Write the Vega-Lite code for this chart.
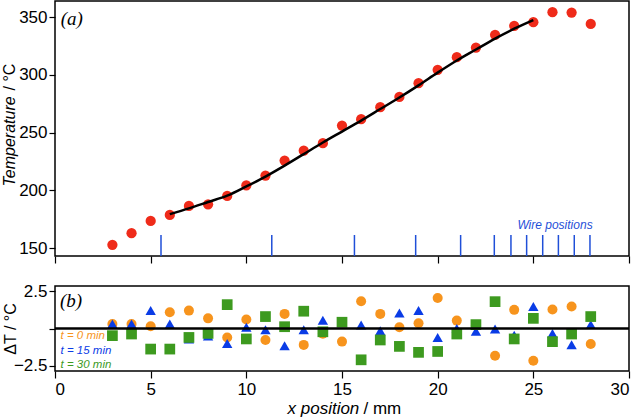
{
  "$schema": "https://vega.github.io/schema/vega-lite/v6.json",
  "background": "white",
  "padding": {"left": 0, "top": 0, "right": 5, "bottom": 0},
  "spacing": 16,
  "config": {
    "view": {"stroke": "black", "strokeWidth": 1.5},
    "font": "Liberation Sans",
    "axis": {
      "domain": false, "grid": false, "tickColor": "black", "tickWidth": 1.2, "tickSize": 6,
      "labelFont": "Liberation Sans", "labelFontSize": 17, "labelColor": "black", "labelPadding": 2,
      "titleFont": "Liberation Sans", "titleFontSize": 16, "titleColor": "black", "titleFontWeight": "normal"
    }
  },
  "datasets": {
    "temp": [
      {"x": 3, "T": 153}, {"x": 4, "T": 163}, {"x": 5, "T": 173.6}, {"x": 6, "T": 178.8},
      {"x": 7, "T": 186.6}, {"x": 8, "T": 188}, {"x": 9, "T": 195.3}, {"x": 10, "T": 204.5},
      {"x": 11, "T": 212.9}, {"x": 12, "T": 225.9}, {"x": 13, "T": 234.5}, {"x": 14, "T": 240.9},
      {"x": 15, "T": 256.2}, {"x": 16, "T": 261.7}, {"x": 17, "T": 272.1}, {"x": 18, "T": 281},
      {"x": 19, "T": 292.9}, {"x": 20, "T": 304.4}, {"x": 21, "T": 315.4}, {"x": 22, "T": 323.7},
      {"x": 23, "T": 334.7}, {"x": 24, "T": 342.5}, {"x": 25, "T": 345.7}, {"x": 26, "T": 354.3},
      {"x": 27, "T": 354}, {"x": 28, "T": 344.2}
    ],
    "fit": [
      {"x": 6, "T": 179.5}, {"x": 7, "T": 184.5}, {"x": 8, "T": 190}, {"x": 9, "T": 195.5},
      {"x": 10, "T": 203.5}, {"x": 11, "T": 212}, {"x": 12, "T": 221.5}, {"x": 13, "T": 231.5},
      {"x": 14, "T": 241.5}, {"x": 15, "T": 251}, {"x": 16, "T": 260.5}, {"x": 17, "T": 270.5},
      {"x": 18, "T": 280.5}, {"x": 19, "T": 291}, {"x": 20, "T": 302}, {"x": 21, "T": 312.5},
      {"x": 22, "T": 322}, {"x": 23, "T": 331.5}, {"x": 24, "T": 340}, {"x": 25, "T": 347.5}
    ],
    "wires": [
      {"x": 5.54}, {"x": 11.33}, {"x": 15.65}, {"x": 18.85}, {"x": 21.2}, {"x": 22.96},
      {"x": 23.83}, {"x": 24.65}, {"x": 25.49}, {"x": 26.31}, {"x": 27.14}, {"x": 27.96}
    ],
    "dT": [
      {"x": 3, "s": "t0", "dT": 0.3}, {"x": 4, "s": "t0", "dT": 0.3}, {"x": 5, "s": "t0", "dT": 0.15},
      {"x": 6, "s": "t0", "dT": 1.09}, {"x": 7, "s": "t0", "dT": 1.2}, {"x": 8, "s": "t0", "dT": 0.68},
      {"x": 9, "s": "t0", "dT": -0.6}, {"x": 10, "s": "t0", "dT": 0.6}, {"x": 11, "s": "t0", "dT": -0.77},
      {"x": 12, "s": "t0", "dT": 0.98}, {"x": 13, "s": "t0", "dT": -1.1}, {"x": 14, "s": "t0", "dT": -0.35},
      {"x": 15, "s": "t0", "dT": -0.88}, {"x": 16, "s": "t0", "dT": 1.83}, {"x": 17, "s": "t0", "dT": 0.98},
      {"x": 18, "s": "t0", "dT": 0.08}, {"x": 19, "s": "t0", "dT": 0.35}, {"x": 20, "s": "t0", "dT": 2.05},
      {"x": 21, "s": "t0", "dT": 0.53}, {"x": 22, "s": "t0", "dT": 0.2}, {"x": 23, "s": "t0", "dT": -1.83},
      {"x": 24, "s": "t0", "dT": 1.25}, {"x": 25, "s": "t0", "dT": -2.16}, {"x": 26, "s": "t0", "dT": 1.27},
      {"x": 27, "s": "t0", "dT": 1.47}, {"x": 28, "s": "t0", "dT": -1.04},
      {"x": 3, "s": "t15", "dT": 0.3}, {"x": 4, "s": "t15", "dT": 0.3}, {"x": 5, "s": "t15", "dT": 1.2},
      {"x": 6, "s": "t15", "dT": 0.3}, {"x": 7, "s": "t15", "dT": -0.7}, {"x": 8, "s": "t15", "dT": -0.5},
      {"x": 9, "s": "t15", "dT": -1.0}, {"x": 10, "s": "t15", "dT": 0.08}, {"x": 11, "s": "t15", "dT": -0.08},
      {"x": 12, "s": "t15", "dT": -1.15}, {"x": 13, "s": "t15", "dT": -0.08}, {"x": 14, "s": "t15", "dT": 0.55},
      {"x": 15, "s": "t15", "dT": 0.4}, {"x": 16, "s": "t15", "dT": 0.24}, {"x": 17, "s": "t15", "dT": -0.15},
      {"x": 18, "s": "t15", "dT": 1.04}, {"x": 19, "s": "t15", "dT": 1.2}, {"x": 20, "s": "t15", "dT": -0.6},
      {"x": 21, "s": "t15", "dT": 0.0}, {"x": 22, "s": "t15", "dT": -0.19}, {"x": 23, "s": "t15", "dT": -0.03},
      {"x": 24, "s": "t15", "dT": -0.45}, {"x": 25, "s": "t15", "dT": 1.47}, {"x": 26, "s": "t15", "dT": -0.33},
      {"x": 27, "s": "t15", "dT": -1.09}, {"x": 28, "s": "t15", "dT": 0.26},
      {"x": 3, "s": "t30", "dT": -0.48}, {"x": 4, "s": "t30", "dT": -0.37}, {"x": 5, "s": "t30", "dT": -1.38},
      {"x": 6, "s": "t30", "dT": -1.38}, {"x": 7, "s": "t30", "dT": -0.6}, {"x": 8, "s": "t30", "dT": -0.33},
      {"x": 9, "s": "t30", "dT": 1.6}, {"x": 10, "s": "t30", "dT": -0.7}, {"x": 11, "s": "t30", "dT": 0.8},
      {"x": 12, "s": "t30", "dT": 0.12}, {"x": 13, "s": "t30", "dT": 1.16}, {"x": 14, "s": "t30", "dT": -0.22},
      {"x": 15, "s": "t30", "dT": 0.42}, {"x": 16, "s": "t30", "dT": -2.1}, {"x": 17, "s": "t30", "dT": -0.77},
      {"x": 18, "s": "t30", "dT": -1.2}, {"x": 19, "s": "t30", "dT": -1.6}, {"x": 20, "s": "t30", "dT": -1.54},
      {"x": 21, "s": "t30", "dT": -0.37}, {"x": 22, "s": "t30", "dT": 0.26}, {"x": 23, "s": "t30", "dT": 1.8},
      {"x": 24, "s": "t30", "dT": -0.7}, {"x": 25, "s": "t30", "dT": 0.68}, {"x": 26, "s": "t30", "dT": -0.88},
      {"x": 27, "s": "t30", "dT": -0.37}, {"x": 28, "s": "t30", "dT": 0.8}
    ],
    "one": [{"a": "Wire positions", "b": "(a)", "c": "(b)", "l0": "t = 0 min", "l15": "t = 15 min", "l30": "t = 30 min"}]
  },
  "vconcat": [
    {
      "width": 574,
      "height": 255,
      "layer": [
        {
          "layer": [
            {
              "data": {"name": "temp"},
              "mark": {"type": "circle", "size": 105, "color": "#ef2b1a", "opacity": 1},
              "encoding": {
                "x": {"field": "x", "type": "quantitative",
                      "scale": {"domain": [0, 30], "nice": false},
                      "axis": {"values": [0, 5, 10, 15, 20, 25, 30], "labels": false, "title": null, "tickSize": 7}},
                "y": {"field": "T", "type": "quantitative",
                      "scale": {"domain": [143.3, 364], "nice": false, "zero": false},
                      "axis": {"values": [150, 200, 250, 300, 350], "title": "Temperature",
                               "titleFontStyle": "italic", "titleAngle": 270, "titleAlign": "left",
                               "titleBaseline": "middle", "titleX": -46, "titleY": 185}}
              }
            },
            {
              "data": {"name": "fit"},
              "mark": {"type": "line", "color": "black", "strokeWidth": 2.5, "interpolate": "monotone"},
              "encoding": {
                "x": {"field": "x", "type": "quantitative"},
                "y": {"field": "T", "type": "quantitative"}
              }
            },
            {
              "data": {"name": "wires"},
              "mark": {"type": "rule", "color": "#1f4fd8", "strokeWidth": 1.5},
              "encoding": {
                "x": {"field": "x", "type": "quantitative"},
                "y": {"datum": 161.5, "type": "quantitative"},
                "y2": {"datum": 143.3}
              }
            },
            {
              "data": {"name": "one"},
              "mark": {"type": "text", "color": "#1f4fd8", "font": "Liberation Sans", "fontStyle": "italic",
                       "fontSize": 12, "align": "right", "baseline": "alphabetic"},
              "encoding": {
                "x": {"datum": 28.1, "type": "quantitative"},
                "y": {"datum": 166.7, "type": "quantitative"},
                "text": {"field": "a"}
              }
            },
            {
              "data": {"name": "one"},
              "mark": {"type": "text", "color": "black", "font": "Liberation Serif", "fontStyle": "italic",
                       "fontSize": 19, "align": "left", "baseline": "middle"},
              "encoding": {
                "x": {"datum": 0.3, "type": "quantitative"},
                "y": {"datum": 348.5, "type": "quantitative"},
                "text": {"field": "b"}
              }
            }
          ]
        },
        {
          "data": {"name": "temp"},
          "mark": {"type": "point", "opacity": 0},
          "encoding": {
            "y": {"field": "T", "type": "quantitative",
                  "axis": {"orient": "right", "labels": false, "ticks": false, "domain": false,
                           "title": "/ °C", "titleFontStyle": "normal", "titleAngle": 270, "titleAlign": "left",
                           "titleBaseline": "middle", "titleX": -620, "titleY": 89}}
          }
        }
      ],
      "resolve": {"axis": {"y": "independent"}}
    },
    {
      "width": 574,
      "height": 85,
      "layer": [
        {
          "layer": [
            {
              "data": {"name": "dT"},
              "mark": {"type": "point", "filled": true, "opacity": 1, "strokeWidth": 0},
              "encoding": {
                "x": {"field": "x", "type": "quantitative",
                      "scale": {"domain": [0, 30], "nice": false},
                      "axis": {"values": [0, 5, 10, 15, 20, 25, 30], "tickSize": 7, "labelPadding": 3,
                               "title": "x position", "titleFontStyle": "italic", "titleFontSize": 17,
                               "titleAlign": "left", "titleBaseline": "alphabetic", "titleX": 232, "titleY": 42}},
                "y": {"field": "dT", "type": "quantitative",
                      "scale": {"domain": [-2.85, 2.85], "nice": false},
                      "axis": {"values": [-2.5, 0, 2.5], "format": ".1f",
                               "labelExpr": "datum.value === 0 ? '' : datum.label",
                               "title": "ΔT / °C", "titleAngle": 270, "titleAlign": "center",
                               "titleBaseline": "middle", "titleX": -45, "titleY": 42.5}},
                "color": {"field": "s", "type": "nominal",
                          "scale": {"domain": ["t0", "t15", "t30"], "range": ["#f7941d", "#0a3ce6", "#3d9a1f"]},
                          "legend": null},
                "shape": {"field": "s", "type": "nominal",
                          "scale": {"domain": ["t0", "t15", "t30"], "range": ["circle", "triangle-up", "square"]},
                          "legend": null},
                "size": {"field": "s", "type": "nominal",
                         "scale": {"domain": ["t0", "t15", "t30"], "range": [100, 115, 121]},
                         "legend": null}
              }
            },
            {
              "data": {"name": "one"},
              "mark": {"type": "rule", "color": "black", "strokeWidth": 2.5},
              "encoding": {"y": {"datum": 0, "type": "quantitative"}}
            },
            {
              "data": {"name": "one"},
              "mark": {"type": "text", "color": "black", "font": "Liberation Serif", "fontStyle": "italic",
                       "fontSize": 19, "align": "left", "baseline": "middle"},
              "encoding": {
                "x": {"datum": 0.26, "type": "quantitative"},
                "y": {"datum": 1.82, "type": "quantitative"},
                "text": {"field": "c"}
              }
            },
            {
              "data": {"name": "one"},
              "mark": {"type": "text", "color": "#f7941d", "font": "Liberation Sans", "fontStyle": "italic",
                       "fontSize": 11.5, "align": "left", "baseline": "middle"},
              "encoding": {
                "x": {"datum": 0.29, "type": "quantitative"},
                "y": {"datum": -0.5, "type": "quantitative"},
                "text": {"field": "l0"}
              }
            },
            {
              "data": {"name": "one"},
              "mark": {"type": "text", "color": "#0a3ce6", "font": "Liberation Sans", "fontStyle": "italic",
                       "fontSize": 11.5, "align": "left", "baseline": "middle"},
              "encoding": {
                "x": {"datum": 0.29, "type": "quantitative"},
                "y": {"datum": -1.54, "type": "quantitative"},
                "text": {"field": "l15"}
              }
            },
            {
              "data": {"name": "one"},
              "mark": {"type": "text", "color": "#3d9a1f", "font": "Liberation Sans", "fontStyle": "italic",
                       "fontSize": 11.5, "align": "left", "baseline": "middle"},
              "encoding": {
                "x": {"datum": 0.29, "type": "quantitative"},
                "y": {"datum": -2.47, "type": "quantitative"},
                "text": {"field": "l30"}
              }
            }
          ]
        },
        {
          "data": {"name": "dT"},
          "mark": {"type": "point", "opacity": 0},
          "encoding": {
            "x": {"field": "x", "type": "quantitative",
                  "axis": {"orient": "top", "labels": false, "ticks": false, "domain": false,
                           "title": "/ mm", "titleFontStyle": "normal", "titleFontSize": 17,
                           "titleAlign": "left", "titleBaseline": "alphabetic", "titleX": 308, "titleY": 127}}
          }
        }
      ],
      "resolve": {"axis": {"x": "independent"}}
    }
  ]
}
